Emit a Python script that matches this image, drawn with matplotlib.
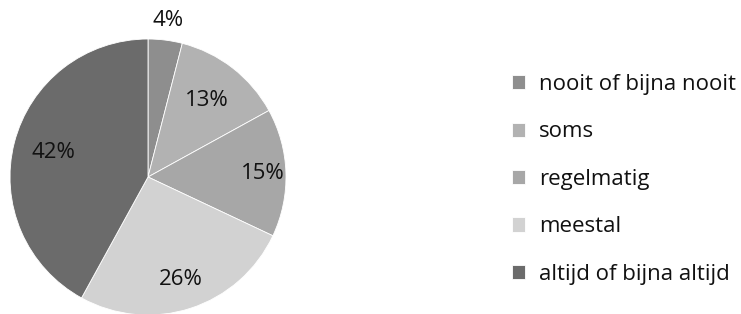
import matplotlib.pyplot as plt
import numpy as np

categories = ["nooit of bijna nooit", "soms", "regelmatig", "meestal", "altijd of bijna altijd"]
shares = [4, 13, 15, 26, 42]
colors = ["#8e8e8e", "#b2b2b2", "#a7a7a7", "#d2d2d2", "#6b6b6b"]
label_dist = [1.14, 0.70, 0.83, 0.78, 0.71]

plt.rcParams["font.family"] = ["Open Sans", "DejaVu Sans"]

fig = plt.figure(figsize=(7.41, 3.14), dpi=100)
fig.patch.set_facecolor("white")

# pie axes: centre ~(148, 177) px, radius ~138 px
W, H = 741, 314
cx, cy, r = 148, 177, 138
ax = fig.add_axes([(cx - r) / W, (H - cy - r) / H, 2 * r / W, 2 * r / H])

wedges, texts = ax.pie(
    shares,
    colors=colors,
    startangle=90,
    counterclock=False,
    labels=[f"{s}%" for s in shares],
    labeldistance=1.0,
    wedgeprops=dict(edgecolor="white", linewidth=0.6),
    textprops=dict(fontsize=16, color="#111111"),
)
for w, t, d in zip(wedges, texts, label_dist):
    ang = np.deg2rad((w.theta1 + w.theta2) / 2)
    t.set_position((d * np.cos(ang), d * np.sin(ang)))
    t.set_ha("center")
    t.set_va("center")
    t.set_clip_on(False)
ax.set_xlim(-1, 1)
ax.set_ylim(-1, 1)
ax.set_aspect("auto")

leg = fig.legend(
    wedges,
    categories,
    loc="upper left",
    bbox_to_anchor=(512 / W, 1 - 74 / H),
    frameon=False,
    fontsize=16,
    handlelength=0.6,
    handleheight=0.6,
    handletextpad=0.6,
    labelspacing=1.19,
    borderaxespad=0,
    borderpad=0,
)
for txt in leg.get_texts():
    txt.set_color("#111111")

fig.savefig("out.png", dpi=100)
